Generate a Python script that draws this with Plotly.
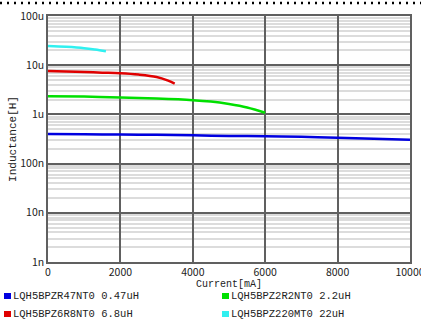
import plotly.graph_objects as go

# Inductance vs DC current, LQH5BPZ series
cur_r47 = [0, 1000, 2000, 3000, 4000, 5000, 6000, 7000, 8000, 9000, 10000]
ind_r47 = [0.40, 0.395, 0.39, 0.385, 0.375, 0.365, 0.36, 0.35, 0.335, 0.32, 0.305]

cur_2r2 = [0, 1000, 2000, 3000, 4000, 4500, 5000, 5500, 6000]
ind_2r2 = [2.35, 2.3, 2.2, 2.1, 1.95, 1.82, 1.62, 1.38, 1.08]

cur_6r8 = [0, 500, 1000, 1500, 2000, 2500, 3000, 3300, 3500]
ind_6r8 = [7.6, 7.45, 7.25, 7.05, 6.85, 6.45, 5.75, 4.9, 4.2]

cur_220 = [0, 500, 1000, 1300, 1600]
ind_220 = [24.5, 23.6, 22.2, 20.8, 19.2]

names = ["LQH5BPZR47NT0 0.47uH", "LQH5BPZ2R2NT0 2.2uH",
         "LQH5BPZ6R8NT0 6.8uH", "LQH5BPZ220MT0 22uH"]
colors = ["#0000e0", "#00e000", "#e00000", "#30f0f0"]

xtick_vals = [0, 2000, 4000, 6000, 8000, 10000]
ytick_vals = [1e-9, 1e-8, 1e-7, 1e-6, 1e-5, 1e-4]
ytick_text = ["1n", "10n", "100n", "1u", "10u", "100u"]

fig = go.Figure()
series = [(cur_r47, ind_r47), (cur_2r2, ind_2r2), (cur_6r8, ind_6r8), (cur_220, ind_220)]
for (x, y), c in zip(series, colors):
    fig.add_trace(go.Scatter(x=x, y=[v * 1e-6 for v in y], mode="lines",
                             line=dict(color=c, width=2.5, shape="spline"),
                             showlegend=False))

font = "Noto Sans CJK JP"
mono = "Liberation Mono"
fig.update_layout(
    width=421, height=322,
    margin=dict(l=48, r=11, t=16, b=60),
    paper_bgcolor="white", plot_bgcolor="white",
    font=dict(family=font, size=10, color="#222"),
    xaxis=dict(range=[0, 10000], tickvals=xtick_vals,
               ticktext=[str(v) for v in xtick_vals], automargin=False,
               ticklabeloverflow="allow",
               showgrid=True, gridcolor="#606060",
               gridwidth=1.5, linecolor="#606060", linewidth=1.5, mirror=True,
               zeroline=False, ticks="", tickfont=dict(size=10.5),
               title=dict(text="Current[mA]", standoff=0,
                          font=dict(size=10, family=mono))),
    yaxis=dict(type="log", range=[-9, -4], tickvals=ytick_vals, ticktext=ytick_text,
               automargin=False,
               showgrid=True, gridcolor="#606060", gridwidth=1.5,
               linecolor="#606060", linewidth=1.5, mirror=True, ticks="",
               ticklabelstandoff=0, tickfont=dict(size=10.5),
               minor=dict(showgrid=True, gridcolor="#dcdcdc", gridwidth=1.5, dtick="D1"),
               title=dict(text="Inductance[H]", standoff=1,
                          font=dict(size=11, family=mono))),
)


def px_x(px):
    return (px - 48) / 362


def px_y(py):
    return 1 - (py - 16) / 246


# legend built from swatch rectangles + text annotations
pos = [(4, 296), (222, 296), (4, 314), (222, 314)]
for (px, py), n, c in zip(pos, names, colors):
    fig.add_shape(type="rect", xref="paper", yref="paper",
                  x0=px_x(px), x1=px_x(px + 7), y0=px_y(py - 3), y1=px_y(py + 3),
                  fillcolor=c, line=dict(width=0))
    fig.add_annotation(xref="paper", yref="paper",
                       x=px_x(px + 7), y=px_y(py),
                       xanchor="left", yanchor="middle", showarrow=False,
                       text=n, font=dict(size=10.5, family=mono))

# dotted border at the top of the image
fig.add_shape(type="line", xref="paper", yref="paper",
              x0=px_x(0), x1=px_x(421), y0=px_y(3), y1=px_y(3),
              line=dict(color="black", width=2.5, dash="2px,5px"))

fig.write_html("out.html", config={"displayModeBar": False},
               post_script="document.body.style.margin='0';")
